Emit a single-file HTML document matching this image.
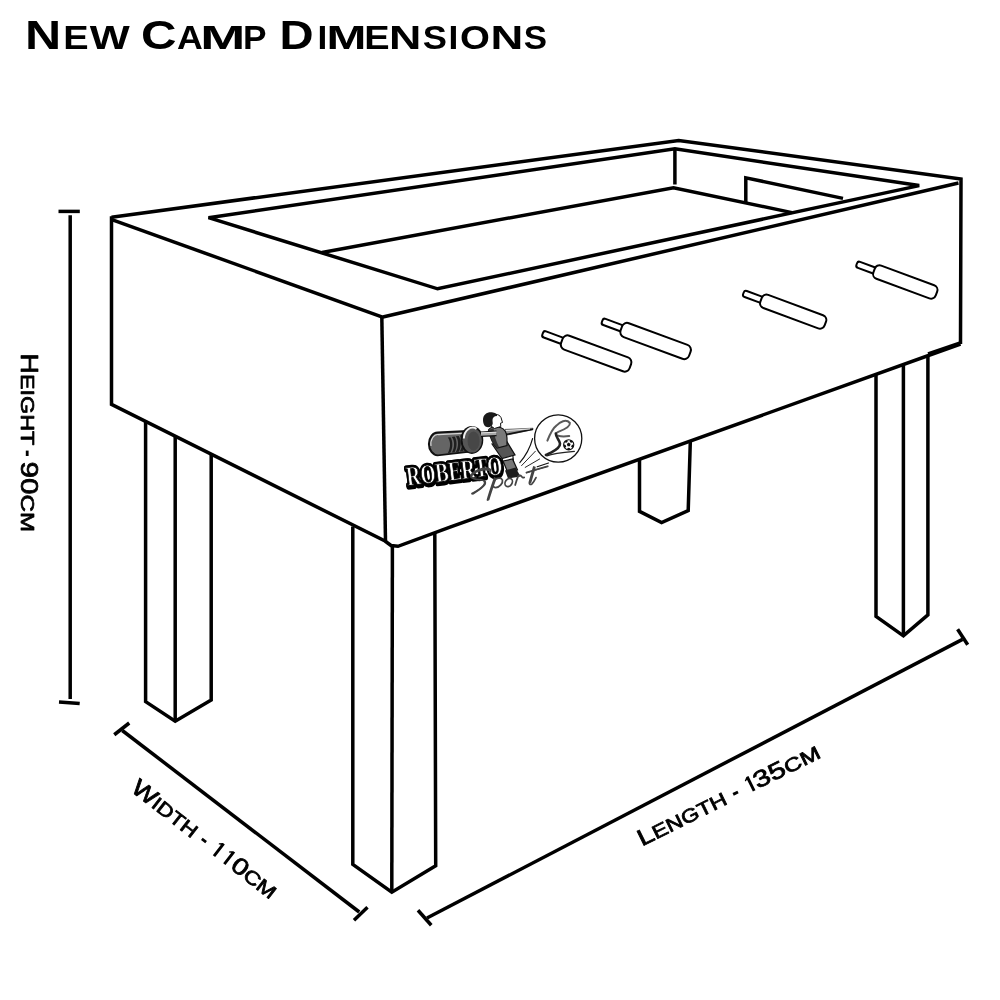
<!DOCTYPE html>
<html><head><meta charset="utf-8"><title>New Camp Dimensions</title>
<style>
html,body{margin:0;padding:0;background:#fff;}
body{width:1000px;height:1000px;overflow:hidden;}
svg{display:block;} .gs{filter:grayscale(1);}
</style></head>
<body>
<svg class="gs" width="1000" height="1000" viewBox="0 0 1000 1000">
<rect width="1000" height="1000" fill="#fff"/>
<g transform="translate(0,49.2)"><text x="24.96" y="0" textLength="36.19" lengthAdjust="spacingAndGlyphs" font-family="Liberation Sans" font-weight="bold" fill="#000"><tspan font-size="40.7">N</tspan></text><text x="63.26" y="0" textLength="25.35" lengthAdjust="spacingAndGlyphs" font-family="Liberation Sans" font-weight="bold" fill="#000"><tspan font-size="33.9">E</tspan></text><text x="89.70" y="0" textLength="40.00" lengthAdjust="spacingAndGlyphs" font-family="Liberation Sans" font-weight="bold" fill="#000"><tspan font-size="33.9">W</tspan></text><text x="141.03" y="0" textLength="35.55" lengthAdjust="spacingAndGlyphs" font-family="Liberation Sans" font-weight="bold" fill="#000"><tspan font-size="40.7">C</tspan></text><text x="177.05" y="0" textLength="25.82" lengthAdjust="spacingAndGlyphs" font-family="Liberation Sans" font-weight="bold" fill="#000"><tspan font-size="33.9">A</tspan></text><text x="200.31" y="0" textLength="45.06" lengthAdjust="spacingAndGlyphs" font-family="Liberation Sans" font-weight="bold" fill="#000"><tspan font-size="33.9">M</tspan></text><text x="243.02" y="0" textLength="23.51" lengthAdjust="spacingAndGlyphs" font-family="Liberation Sans" font-weight="bold" fill="#000"><tspan font-size="33.9">P</tspan></text><text x="279.62" y="0" textLength="34.09" lengthAdjust="spacingAndGlyphs" font-family="Liberation Sans" font-weight="bold" fill="#000"><tspan font-size="40.7">D</tspan></text><text x="317.42" y="0" textLength="9.80" lengthAdjust="spacingAndGlyphs" font-family="Liberation Sans" font-weight="bold" fill="#000"><tspan font-size="33.9">I</tspan></text><text x="326.47" y="0" textLength="39.88" lengthAdjust="spacingAndGlyphs" font-family="Liberation Sans" font-weight="bold" fill="#000"><tspan font-size="33.9">M</tspan></text><text x="364.16" y="0" textLength="25.35" lengthAdjust="spacingAndGlyphs" font-family="Liberation Sans" font-weight="bold" fill="#000"><tspan font-size="33.9">E</tspan></text><text x="389.06" y="0" textLength="32.32" lengthAdjust="spacingAndGlyphs" font-family="Liberation Sans" font-weight="bold" fill="#000"><tspan font-size="33.9">N</tspan></text><text x="422.73" y="0" textLength="24.19" lengthAdjust="spacingAndGlyphs" font-family="Liberation Sans" font-weight="bold" fill="#000"><tspan font-size="33.9">S</tspan></text><text x="448.62" y="0" textLength="9.80" lengthAdjust="spacingAndGlyphs" font-family="Liberation Sans" font-weight="bold" fill="#000"><tspan font-size="33.9">I</tspan></text><text x="460.07" y="0" textLength="29.89" lengthAdjust="spacingAndGlyphs" font-family="Liberation Sans" font-weight="bold" fill="#000"><tspan font-size="33.9">O</tspan></text><text x="490.62" y="0" textLength="32.81" lengthAdjust="spacingAndGlyphs" font-family="Liberation Sans" font-weight="bold" fill="#000"><tspan font-size="33.9">N</tspan></text><text x="523.77" y="0" textLength="23.29" lengthAdjust="spacingAndGlyphs" font-family="Liberation Sans" font-weight="bold" fill="#000"><tspan font-size="33.9">S</tspan></text></g>

<g fill="none" stroke="#000" stroke-width="3.5" stroke-linejoin="miter" stroke-linecap="butt">
<!-- top outer -->
<path d="M381.8,316.8 L111.8,219.6"/>
<path d="M111.5,217.2 L678.7,140.4 L961,179 L960.5,344"/>
<path d="M958.5,183 L381.8,317.2"/>
<!-- inner opening -->
<path d="M208.5,217.7 L674.9,148.8 L919.2,185.6 L437.6,288.8 Z"/>
<path d="M674.9,148.8 L674.9,184.5"/>
<!-- playfield -->
<path d="M322,252.5 L673.5,187.7 L792,212.6"/>
<path d="M745.8,202.6 L745.8,177.8 L843,198.4"/>
<!-- left face -->
<path d="M111.5,216.2 L111.5,404.4 L385,541 L391,545.5 L398,546.3 L450,527.2 L960.5,344"/>
<!-- front vertical -->
<path d="M381.8,316 L385.5,541"/>
<path d="M928,353.6 L961,342.4" stroke-width="3"/>
<!-- legs -->
<path d="M145.6,421.5 L145.6,701.6 L175.2,721.3 L211.2,700 L211.2,454.3"/>
<path d="M175.2,436.3 L175.2,721.3"/>
<path d="M352.8,526.5 L352.8,864.3 L391.8,892.2 L435.7,865.8 L434.8,533"/>
<path d="M392.4,547 L391.8,892.2"/>
<path d="M639.5,460 L639.5,511.3 L661.6,522.5 L688.2,510.6 L690.3,442"/>
<path d="M876,375 L876,616.3 L903.4,635.9 L927.9,614.9 L927.9,355.5"/>
<path d="M903.4,365 L903.4,635.9"/>
<!-- dimension lines -->
<path d="M70.2,215.2 L70.2,699"/>
<path d="M58.5,211.4 L79.8,211.4"/>
<path d="M59,702 L79.7,703.5"/>
<path d="M122.25,730.5 L359.25,912"/>
<path d="M114.25,734.75 L129.25,723"/>
<path d="M354,920.25 L367.5,907.2"/>
<path d="M427,918 L962.5,639.4"/>
<path d="M418,910.25 L431.25,925.25"/>
<path d="M957.6,629.3 L967.7,644.7"/>
</g>

<!-- handles -->
<g fill="#fff" stroke="#000" stroke-width="2">
<g transform="translate(542.5,334.1) rotate(20.3)">
 <rect x="0" y="-3.8" width="22" height="6.6" rx="2.4"/>
 <rect x="20.5" y="-7.8" width="73" height="14.8" rx="5.2"/>
</g>
<g transform="translate(602,321.6) rotate(20.3)">
 <rect x="0" y="-3.8" width="22" height="6.6" rx="2.4"/>
 <rect x="20.5" y="-7.8" width="73" height="14.8" rx="5.2"/>
</g>
<g transform="translate(743.3,293.6) rotate(20.3)">
 <rect x="0" y="-3.6" width="21" height="6.4" rx="2.4"/>
 <rect x="18.8" y="-7.4" width="68.5" height="14" rx="5"/>
</g>
<g transform="translate(856.6,264.4) rotate(20.3)">
 <rect x="0" y="-3.6" width="21" height="6.4" rx="2.4"/>
 <rect x="18.5" y="-7.4" width="66.5" height="14" rx="5"/>
</g>
</g>

<g id="logo">
 <!-- motion lines -->
 <g fill="none" stroke="#111" stroke-linecap="round">
  <path d="M519.8,462.6 Q529,452 532.6,438.5" stroke-width="1.1"/>
  <path d="M521.6,465.6 L535.4,451.2" stroke-width="0.9"/>
  <path d="M525.2,467.4 L539.6,459" stroke-width="0.9"/>
  <path d="M537.2,466.8 L548.5,463" stroke-width="1.1"/>
  <path d="M526.4,472.8 L548,466.2" stroke-width="0.8"/>
 </g>
 <!-- circle RS -->
 <circle cx="558.2" cy="438.5" r="23.6" fill="none" stroke="#111" stroke-width="1.3"/>
 <path d="M547.4,440.6 C550,434 553,428 556.4,425.6 C560,422 566,418.5 569.9,423 C570.5,427 563,430 558.8,431.6 C555,433 555.5,435.5 558.2,435.8 C561,436.5 566,436.4 569.2,436" fill="none" stroke="#5a5a5a" stroke-width="2" stroke-linecap="round"/>
 <path d="M555.8,433.5 C556,438 559.8,440 560,443.6 C560.3,447 556,450 551,452.6 C549,453.6 547,454.4 545.9,455" fill="none" stroke="#222" stroke-width="2.6" stroke-linecap="round"/>
 <path d="M546.8,455.9 C552,453.8 558,452.8 574.4,451.4" fill="none" stroke="#222" stroke-width="1.2" stroke-linecap="round"/>
 <clipPath id="ballclip"><circle cx="568.7" cy="444.8" r="5.1"/></clipPath>
 <circle cx="568.7" cy="444.8" r="5.1" fill="#fff"/>
 <g clip-path="url(#ballclip)" fill="#111"><path d="M568.70,442.60 L570.60,443.98 L569.88,446.22 L567.52,446.22 L566.80,443.98 Z"/><circle cx="571.40" cy="441.08" r="1.7"/><circle cx="573.07" cy="446.22" r="1.7"/><circle cx="568.70" cy="449.40" r="1.7"/><circle cx="564.33" cy="446.22" r="1.7"/><circle cx="566.00" cy="441.08" r="1.7"/></g>
 <circle cx="568.7" cy="444.8" r="5.1" fill="none" stroke="#111" stroke-width="1.1"/>
 <!-- rod right of player -->
 <path d="M505,429.4 L533,428.2 L533,429.6 L505.5,435.4 Z" fill="#9a9a9a" stroke="#222" stroke-width="0.6"/>
 <path d="M505.5,434.6 L533,429.3" stroke="#111" stroke-width="1.5" fill="none"/>
 <path d="M505.5,430.6 L530,428.9" stroke="#eee" stroke-width="0.9" fill="none"/>
 <!-- player legs -->
 <path d="M501.5,455 L512.5,452.5 L513.5,461.5 L503,463 Z" fill="#fff" stroke="#111" stroke-width="1.2"/>
 <path d="M503,461 L512.5,459 L517.5,470 L508,473 Z" fill="#777" stroke="#111" stroke-width="1.2"/>
 <path d="M505,470.5 L515.5,467.5 L520.5,476.5 L508,478.5 Z" fill="#1c1c1c"/>
 <!-- shorts -->
 <path d="M492,444 L506.5,441 L515,455 L502,458.5 Z" fill="#555" stroke="#111" stroke-width="1.2"/>
 <!-- torso -->
 <path d="M488.5,430 C490,427 495,426.5 500.5,427.5 C504.5,428.5 507,433 507,438 L507,445.5 L497,448 C493,444 490,437 488.5,430 Z" fill="#7a7a7a" stroke="#111" stroke-width="1.2"/>
 <path d="M488.5,430 C490,437 493,444 497,448 L499,447 C496,441 494,435 493.5,428 Z" fill="#333"/>
 <!-- head -->
 <path d="M490,416 C493,413.5 499,413.5 501,417.5 L502.5,422.5 L500.5,423.2 L500.8,426.5 L494.5,428.5 L491,426 Z" fill="#fff" stroke="#111" stroke-width="1"/>
 <path d="M483,420 C483,414 488,411.5 493,412.5 C496,413 497.5,414.5 497,416 C494,416 492.5,418 492.5,420 C492.5,422.5 493.5,424 491.5,426 C489,427.8 486,427.5 484.5,425.5 C483.5,424 483,422 483,420 Z" fill="#1a1a1a"/>
 <!-- grip -->
 <path d="M437.5,431.6 L468,430 L468,452.8 L437.5,456.2 A9.6,12.3 0 0 1 437.5,431.6 Z" fill="#111"/>
 <path d="M438,433.4 L467,432 L467,451 L438,454.4 A8,10.5 0 0 1 438,433.4 Z" fill="#656565"/>
 <path d="M431,446 A7,9.5 0 0 1 438.5,434.6 L462,433.4" fill="none" stroke="#d8d8d8" stroke-width="1.1"/>
 <g fill="#1e1e1e">
  <path d="M447.8,437.6 C450.8,441 450.8,448 447.8,453 L450.4,452.7 C453,448 453,441 450.4,437.3 Z"/>
  <path d="M451.8,436.9 C454.8,440.5 454.8,447.5 451.8,452.5 L454.6,452.2 C457.2,447.5 457.2,440.5 454.6,436.6 Z"/>
  <path d="M455.8,436.2 C458.8,440 458.8,447 455.8,452 L458.8,451.7 C461.4,447 461.4,440 458.8,435.9 Z"/>
  <path d="M459.8,435.5 C462.8,439.5 462.8,446.5 459.8,451.5 L463,451.2 C465.6,446.5 465.6,439.5 463,435.2 Z"/>
  <path d="M463.8,434.8 C466.8,439 466.8,446 463.8,451 L467.2,450.7 C469.8,446 469.8,439 467.2,434.5 Z"/>
 </g>
 <!-- collar -->
 <ellipse cx="471.9" cy="439.9" rx="11.4" ry="14" fill="#111"/>
 <ellipse cx="472.2" cy="440.2" rx="9.7" ry="12.3" fill="#565656"/>
 <path d="M463.8,438.5 A8.8,11.5 0 0 1 476.5,428.8" fill="none" stroke="#f0f0f0" stroke-width="2"/>
 <ellipse cx="473.6" cy="441" rx="6" ry="9.5" fill="#474747"/>
 <!-- rod -->
 <path d="M481,431.4 L496.5,430.6 L496.5,436.2 L481,437 Z" fill="#111"/>
 <path d="M481,432.6 L496.5,431.8 L496.5,435 L481,435.8 Z" fill="#a8a8a8"/>
 <path d="M481,432.9 L496.5,432.1" stroke="#eee" stroke-width="0.9"/>
 <!-- ROBERTO -->
 <g transform="translate(407.5,485.8) rotate(-6.9)">
  <text x="0" y="0" font-family="Liberation Serif" font-weight="bold" font-size="27.5" textLength="96.5" lengthAdjust="spacingAndGlyphs" fill="#000" stroke="#000" stroke-width="6" stroke-linejoin="round" transform="translate(0.3,0.9)">ROBERTO</text>
  <text x="0" y="0" font-family="Liberation Serif" font-weight="bold" font-size="27.5" textLength="96.5" lengthAdjust="spacingAndGlyphs" fill="#fff" stroke="#000" stroke-width="4.6" stroke-linejoin="round" paint-order="stroke">ROBERTO</text>
  <text x="0" y="0" font-family="Liberation Serif" font-weight="bold" font-size="27.5" textLength="96.5" lengthAdjust="spacingAndGlyphs" fill="none" stroke="#000" stroke-width="0.9" stroke-linejoin="round">ROBERTO</text>
 </g>
 <!-- Sport -->
 <g fill="none" stroke="#444" stroke-width="1.75" stroke-linecap="round" stroke-linejoin="round">
  <path d="M472,493.6 C476,491.5 481,488.5 483.5,485.5 C485.5,483 485,480.5 482,480 C478,479.5 473,479.5 471.5,477.5 C470,475 473,472 478,470 C482,468.3 487,467.5 489.5,469 C491,470 490.8,471.5 490,472.3"/>
  <path d="M472.8,493.8 C477,491.2 482.5,488 484.8,484.5 C485.8,482.5 485.2,481 484,480.5"/>
  <path d="M471.3,477 C471.5,474.5 475,472 479,470.8 C483,469.6 487,469.2 489.2,470.2"/>
  <path d="M487.5,500 C489,494 491.8,486 494.6,478"/>
  <path d="M488.6,499.6 C490.2,493.8 492.8,486.2 495.6,478.6"/>
  <path d="M494.6,479.8 C497,477.6 501.4,477.4 502.4,480 C503.2,483 499.6,487.4 495.6,487.6 C494.4,487.6 493.6,487 493.4,486.2"/>
  <ellipse cx="508.7" cy="482.5" rx="3.3" ry="4.4" transform="rotate(35 508.7 482.5)"/>
  <path d="M515.2,485 C516.2,481.5 517.2,478.5 518.2,476.2 C519,475 520.6,475 521.4,476.2 C522,477.4 523,478 524.2,477.4"/>
  <path d="M533.8,467 C532.4,472 530.6,478 529.4,482.5 C529,484.6 530.6,485 532,483.8 C533.6,482.2 535,479.6 536,477.6"/>
  <path d="M534.8,467.4 C533.4,472.4 531.6,478.2 530.5,482.4"/>
  <path d="M526.4,472.6 C533,470.5 540,468.4 547.6,466.4"/>
 </g>

</g>

<g transform="translate(21.00,355.80) rotate(90.00)"><text x="-2.47" y="0" textLength="91.92" lengthAdjust="spacingAndGlyphs" font-family="Liberation Sans" font-weight="normal" fill="#000" stroke="#000" stroke-width="0.75" stroke-linejoin="round"><tspan font-size="23.25">H</tspan><tspan font-size="18.9">EIGHT</tspan></text><text x="105.82" y="0" textLength="70.49" lengthAdjust="spacingAndGlyphs" font-family="Liberation Sans" font-weight="normal" fill="#000" stroke="#000" stroke-width="0.75" stroke-linejoin="round"><tspan font-size="23.25">90</tspan><tspan font-size="18.9">CM</tspan></text><rect x="94.80" y="-7.6" width="5.4" height="2.8" fill="#000"/></g>
<g transform="translate(129.70,790.50) rotate(37.90)"><path d="M105.35,0 L108.25,0 L108.25,-15.8 L105.90,-15.8 L102.90,-13.3 L103.20,-12.1 L105.35,-13.2 Z" fill="#000"/><path d="M118.45,0 L121.35,0 L121.35,-15.8 L119.00,-15.8 L116.00,-13.3 L116.30,-12.1 L118.45,-13.2 Z" fill="#000"/><text x="0.00" y="0" textLength="78.53" lengthAdjust="spacingAndGlyphs" font-family="Liberation Sans" font-weight="normal" fill="#000" stroke="#000" stroke-width="0.75" stroke-linejoin="round"><tspan font-size="23.25">W</tspan><tspan font-size="18.9">IDTH</tspan></text><text x="126.08" y="0" textLength="51.85" lengthAdjust="spacingAndGlyphs" font-family="Liberation Sans" font-weight="normal" fill="#000" stroke="#000" stroke-width="0.75" stroke-linejoin="round"><tspan font-size="23.25">0</tspan><tspan font-size="18.9">CM</tspan></text><rect x="86.60" y="-7.6" width="5.4" height="2.8" fill="#000"/></g>
<g transform="translate(644.10,845.50) rotate(-26.40)"><path d="M121.45,0 L124.35,0 L124.35,-15.8 L122.00,-15.8 L119.00,-13.3 L119.30,-12.1 L121.45,-13.2 Z" fill="#000"/><text x="-2.44" y="0" textLength="96.64" lengthAdjust="spacingAndGlyphs" font-family="Liberation Sans" font-weight="normal" fill="#000" stroke="#000" stroke-width="0.75" stroke-linejoin="round"><tspan font-size="23.25">L</tspan><tspan font-size="18.9">ENGTH</tspan></text><text x="127.01" y="0" textLength="71.53" lengthAdjust="spacingAndGlyphs" font-family="Liberation Sans" font-weight="normal" fill="#000" stroke="#000" stroke-width="0.75" stroke-linejoin="round"><tspan font-size="23.25">35</tspan><tspan font-size="18.9">CM</tspan></text><rect x="102.50" y="-7.6" width="5.4" height="2.8" fill="#000"/></g>

</svg>
</body></html>
